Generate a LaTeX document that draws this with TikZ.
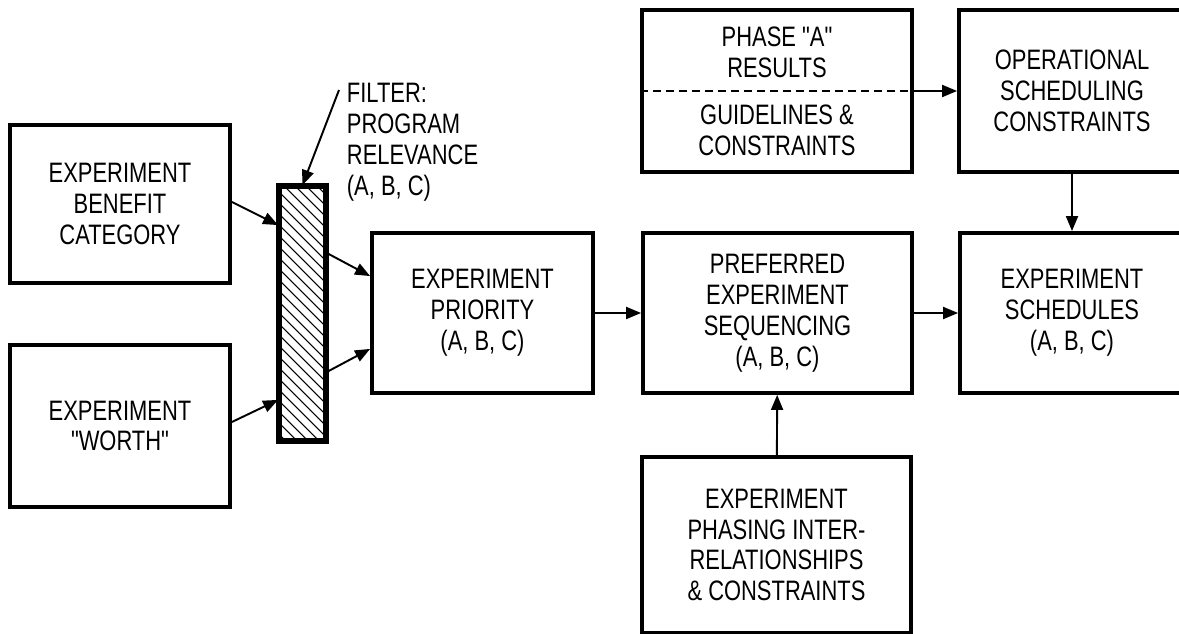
\documentclass[tikz,border=0pt]{standalone}
\usepackage{fontspec}
\setmainfont{Liberation Sans}[FakeStretch=0.78, Ligatures=TeXOff]
\usepackage{tikz}
\usetikzlibrary{arrows.meta}

\begin{document}
\begin{tikzpicture}[x = 0.02cm, y = -0.02cm, line width = 2.2pt,
                    block/.style = {draw, rectangle, align = center, inner sep = 0pt,
                                    font = \fontsize{16}{17.6}\selectfont},
                    words/.style = {align = center, inner sep = 0pt,
                                    font = \fontsize{16}{17.6}\selectfont},
                    arr/.style = {-{Triangle[length = 0.3cm, width = 0.24cm]}, line width = 1.1pt}]
      \clip (0, 0) rectangle (1179, 634);

      % left inputs and the filter
      \node [block, minimum width = 4.4cm, minimum height = 3.16cm] (benefit) at (120, 204)
            {EXPERIMENT\\BENEFIT\\CATEGORY};
      \node [block, minimum width = 4.4cm, minimum height = 3.24cm] (worth) at (120, 426)
            {EXPERIMENT\\"WORTH"};
      \node [block, minimum width = 0.9cm, minimum height = 5.06cm] (bar) at (302.5, 313.5) {};
      \begin{scope}
        \clip (280, 187) rectangle (325, 440);
        \foreach \i in {-60, -49, ..., 460}
          \draw [line width = 0.6pt] (280, \i) -- (325, \i + 45);
      \end{scope}
      \draw (bar.north west) rectangle (bar.south east);
      \node [words, anchor = west, align = left] (filter) at (345, 142)
            {FILTER:\\PROGRAM\\RELEVANCE\\(A, B, C)};
      \coordinate (lead) at (339, 90);

      % main chain
      \node [block, minimum width = 4.42cm, minimum height = 3.2cm] (priority) at (482.5, 313)
            {EXPERIMENT\\PRIORITY\\(A, B, C)};
      \node [block, minimum width = 5.38cm, minimum height = 3.2cm] (sequencing) at (777.5, 313)
            {PREFERRED\\EXPERIMENT\\SEQUENCING\\(A, B, C)};
      \node [block, minimum width = 4.48cm, minimum height = 3.2cm] (schedules) at (1072, 313)
            {EXPERIMENT\\SCHEDULES\\(A, B, C)};

      % top row
      \node [block, minimum width = 5.4cm, minimum height = 3.24cm] (phase) at (777, 91) {};
      \node [words] (results) at (777, 52) {PHASE "A"\\RESULTS};
      \node [words] (guide) at (777, 130) {GUIDELINES \&\\CONSTRAINTS};
      \node [block, minimum width = 4.52cm, minimum height = 3.24cm] (operational) at (1072, 91)
            {OPERATIONAL\\SCHEDULING\\CONSTRAINTS};

      % bottom input
      \node [block, minimum width = 5.38cm, minimum height = 3.52cm] (phasing) at (776.5, 545)
            {EXPERIMENT\\PHASING INTER-\\RELATIONSHIPS\\\& CONSTRAINTS};

      \draw [arr] (lead) -- (bar.north);
      \draw [arr] ([yshift = 0.04cm]benefit.east) -- ([yshift = -0.8cm]bar.north west);
      \draw [arr] ([yshift = 0.08cm]worth.east) -- ([yshift = 0.84cm]bar.south west);
      \draw [arr] ([yshift = -1.36cm]bar.north east) -- ([yshift = -0.9cm]priority.north west);
      \draw [arr] ([yshift = 1.4cm]bar.south east) -- ([yshift = 0.92cm]priority.south west);
      \draw [arr] (priority) -- (sequencing);
      \draw [arr] (sequencing) -- (schedules);
      \draw [arr] (phasing) -- (sequencing);
      \draw [arr] (operational) -- (schedules);
      \draw [line width = 1.1pt, dash pattern = on 0.16cm off 0.1cm] (phase.west) -- (phase.east);
      \draw [arr] (phase.east) -- (operational.west);
\end{tikzpicture}
\end{document}
